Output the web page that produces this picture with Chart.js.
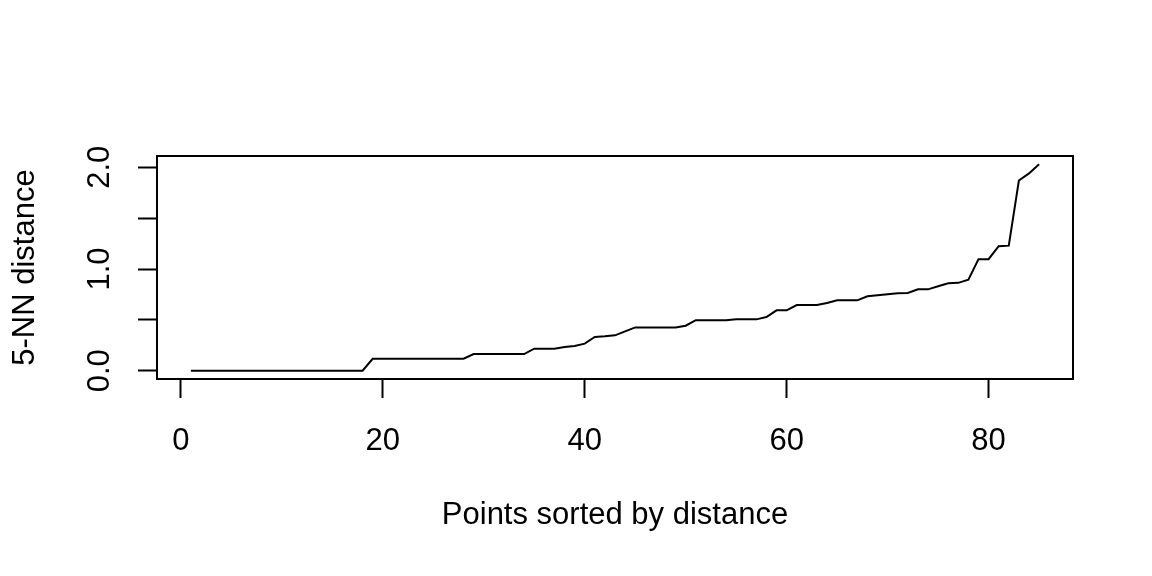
<!DOCTYPE html>
<html lang="en">
<head>
    <meta charset="UTF-8">
    <title>5-NN distance plot</title>
    <script src="https://cdn.jsdelivr.net/npm/chart.js"></script>
    <style>
        body {
            margin: 0;
            padding: 0;
            background-color: #fff;
        }

        .chart-box {
            width: 1152px;
            height: 576px;
        }
    </style>
</head>
<body>
    <div class="chart-box">
        <canvas id="knnChart" width="1152" height="576"></canvas>
    </div>

    <script>
        // sorted 5-NN distances, one per point (1..85)
        const distances = [
            0, 0, 0, 0, 0, 0, 0, 0, 0, 0, 0, 0, 0, 0, 0, 0, 0, 0,
            0.118, 0.118, 0.118, 0.118, 0.118, 0.118, 0.118, 0.118, 0.118, 0.118,
            0.164, 0.164, 0.164, 0.164, 0.164, 0.164,
            0.217, 0.217, 0.217,
            0.233, 0.243, 0.266,
            0.332, 0.338, 0.348, 0.387,
            0.426, 0.426, 0.426, 0.426, 0.426, 0.443,
            0.497, 0.497, 0.497, 0.497,
            0.505, 0.505, 0.505,
            0.528,
            0.594, 0.594,
            0.646, 0.646, 0.646,
            0.666,
            0.692, 0.692, 0.692,
            0.732, 0.742, 0.752, 0.762, 0.765,
            0.80, 0.80,
            0.83,
            0.86, 0.864,
            0.895,
            1.097, 1.097,
            1.225, 1.23,
            1.87, 1.94, 2.03
        ];
        const pointIndex = distances.map((d, i) => i + 1);

        const xTickValues = [0, 20, 40, 60, 80];
        const yTickValues = [0, 0.5, 1, 1.5, 2];
        const yTickLabels = ['0.0', '', '1.0', '', '2.0'];

        const xTitle = 'Points sorted by distance';
        const yTitle = '5-NN distance';

        // R-style 4% axis padding
        const xPad = (pointIndex[pointIndex.length - 1] - pointIndex[0]) * 0.04;
        const yMaxData = Math.max(...distances);
        const yPad = yMaxData * 0.04;

        const fontFace = "'Liberation Sans', Arial, sans-serif";
        const fontSize = 31;

        // full box round the plot region
        const boxPlugin = {
            id: 'plotBox',
            afterDraw(chart) {
                const { ctx, chartArea } = chart;
                ctx.save();
                ctx.strokeStyle = '#000';
                ctx.lineWidth = 2;
                ctx.strokeRect(chartArea.left, chartArea.top,
                    chartArea.right - chartArea.left, chartArea.bottom - chartArea.top);
                ctx.restore();
            }
        };

        const ctx = document.getElementById('knnChart').getContext('2d');
        new Chart(ctx, {
            type: 'line',
            data: {
                datasets: [{
                    data: pointIndex.map((x, i) => ({ x: x, y: distances[i] })),
                    borderColor: '#000',
                    borderWidth: 2,
                    pointRadius: 0,
                    tension: 0,
                    fill: false
                }]
            },
            options: {
                responsive: false,
                animation: false,
                layout: {
                    padding: { top: 156, right: 79, left: 0, bottom: 0 }
                },
                plugins: {
                    legend: { display: false },
                    tooltip: { enabled: false }
                },
                scales: {
                    x: {
                        type: 'linear',
                        min: pointIndex[0] - xPad,
                        max: pointIndex[pointIndex.length - 1] + xPad,
                        afterFit: (scale) => { scale.height = 197; },
                        afterBuildTicks: (scale) => {
                            scale.ticks = xTickValues.map(v => ({ value: v }));
                        },
                        grid: {
                            drawOnChartArea: false,
                            drawTicks: true,
                            tickLength: 19,
                            tickColor: '#000',
                            tickWidth: 2
                        },
                        border: { display: true, color: '#000', width: 2 },
                        ticks: {
                            color: '#000',
                            padding: 25,
                            maxRotation: 0,
                            font: { family: fontFace, size: fontSize },
                            callback: (v) => String(v)
                        },
                        title: {
                            display: true,
                            text: xTitle,
                            color: '#000',
                            font: { family: fontFace, size: fontSize },
                            padding: { top: 0, bottom: 42 }
                        }
                    },
                    y: {
                        type: 'linear',
                        min: -yPad,
                        max: yMaxData + yPad,
                        afterFit: (scale) => { scale.width = 157; },
                        afterBuildTicks: (scale) => {
                            scale.ticks = yTickValues.map(v => ({ value: v }));
                        },
                        grid: {
                            drawOnChartArea: false,
                            drawTicks: true,
                            tickLength: 19,
                            tickColor: '#000',
                            tickWidth: 2
                        },
                        border: { display: true, color: '#000', width: 2 },
                        ticks: {
                            color: '#000',
                            padding: 16,
                            minRotation: 90,
                            maxRotation: 90,
                            crossAlign: 'center',
                            font: { family: fontFace, size: fontSize },
                            callback: (v) => {
                                const i = yTickValues.indexOf(v);
                                return i >= 0 ? yTickLabels[i] : '';
                            }
                        },
                        title: {
                            display: true,
                            text: yTitle,
                            color: '#000',
                            font: { family: fontFace, size: fontSize },
                            padding: { top: 7, bottom: 0 }
                        }
                    }
                }
            },
            plugins: [boxPlugin]
        });
    </script>
</body>
</html>
